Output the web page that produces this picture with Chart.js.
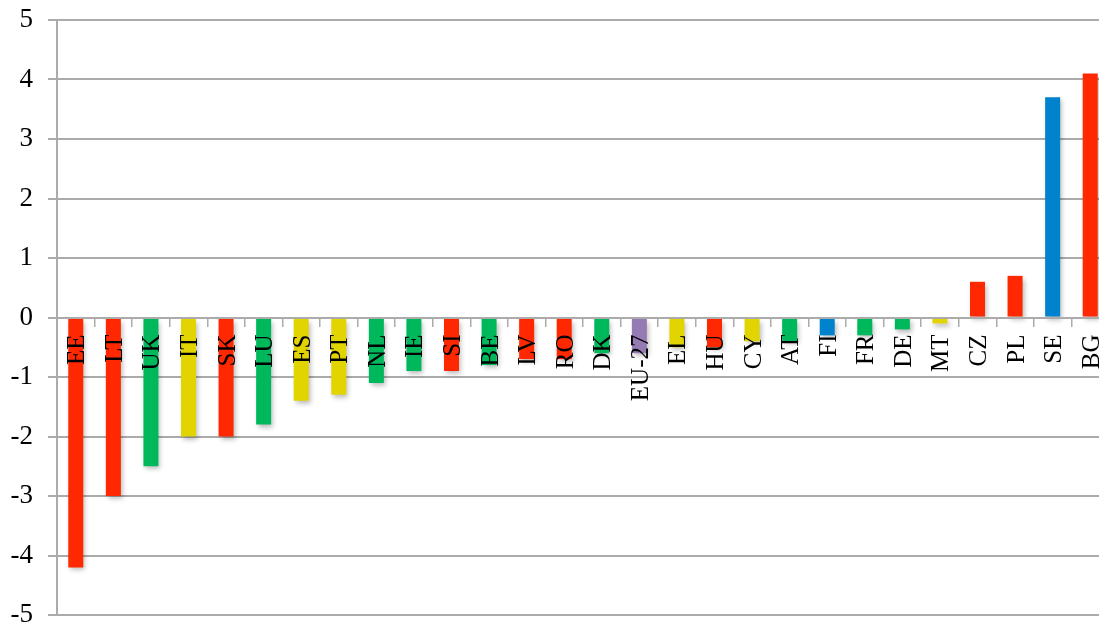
<!DOCTYPE html>
<html>
<head>
<meta charset="utf-8">
<script src="https://cdn.jsdelivr.net/npm/chart.js@4/dist/chart.umd.min.js"></script>
<style>
  html, body { margin: 0; padding: 0; background: #fff; overflow: hidden; }
  canvas { display: block; }
</style>
</head>
<body>
<canvas id="chart" width="1109" height="640"></canvas>
<script>
// country codes, in the order of the chart
const countries = ['EE','LT','UK','IT','SK','LU','ES','PT','NL','IE','SI','BE','LV','RO',
  'DK','EU-27','EL','HU','CY','AT','FI','FR','DE','MT','CZ','PL','SE','BG'];
const values = [-4.2, -3.0, -2.5, -2.0, -2.0, -1.8, -1.4, -1.3, -1.1, -0.9, -0.9, -0.8, -0.7, -0.7,
  -0.6, -0.6, -0.5, -0.5, -0.4, -0.4, -0.3, -0.3, -0.2, -0.1, 0.6, 0.7, 3.7, 4.1];
const groups = ['r','r','g','y','r','g','y','y','g','g','r','g','r','r',
  'g','p','y','r','y','g','b','g','g','y','r','r','b','r'];
const yTicks = { min: -5, max: 5, step: 1 };

const COLORS = { r: '#ff2800', g: '#00b85c', y: '#e2d400', b: '#0082cc', p: '#957bb3' };
const GRID = '#ababab';
const SERIF = '"Liberation Serif", "Times New Roman", serif';

// soft drop shadow under the bars
const barShadow = {
  id: 'barShadow',
  beforeDatasetsDraw(chart) {
    const c = chart.ctx;
    c.save();
    c.shadowColor = 'rgba(0,0,0,0.28)';
    c.shadowBlur = 5;
    c.shadowOffsetX = 2;
    c.shadowOffsetY = 3;
  },
  afterDatasetsDraw(chart) { chart.ctx.restore(); }
};

function noPadding(scale) {
  scale.paddingLeft = scale.paddingRight = scale.paddingTop = scale.paddingBottom = 0;
}

new Chart(document.getElementById('chart'), {
  type: 'bar',
  data: {
    labels: countries,
    datasets: [{
      data: values,
      backgroundColor: groups.map(g => COLORS[g]),
      barPercentage: 0.4,
      categoryPercentage: 1
    }]
  },
  options: {
    responsive: false,
    animation: false,
    devicePixelRatio: 1,
    layout: { padding: { top: 20, bottom: 25, left: 0, right: 0 } },
    plugins: { legend: { display: false }, tooltip: { enabled: false } },
    scales: {
      x: {
        position: { y: 0 },
        offset: true,
        grid: { drawOnChartArea: false, drawTicks: true, tickLength: 8, color: GRID, lineWidth: 1.5, offset: true, z: 1 },
        border: { display: true, color: GRID, width: 2, z: 1 },
        ticks: { z: 2, autoSkip: false, minRotation: 90, maxRotation: 90, padding: 9, labelOffset: 2,
          color: '#000', font: { family: SERIF, size: 25 } },
        afterFit: noPadding
      },
      y: {
        min: yTicks.min,
        max: yTicks.max,
        grid: { color: GRID, lineWidth: 2, tickLength: 9 },
        border: { color: GRID, width: 2 },
        ticks: { stepSize: yTicks.step, padding: 15, color: '#000', font: { family: SERIF, size: 27 } },
        afterFit(scale) { noPadding(scale); scale.width = 57; }
      }
    }
  },
  plugins: [barShadow]
});
</script>
</body>
</html>
